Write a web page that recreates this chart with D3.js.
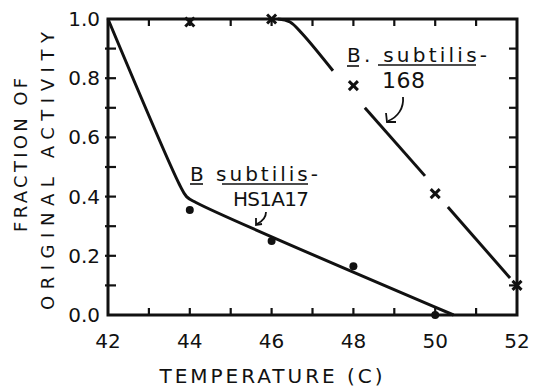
<!DOCTYPE html>
<html><head><meta charset="utf-8">
<script src="https://cdn.jsdelivr.net/npm/d3@7"></script>
<style>
html,body{margin:0;padding:0;background:#fff;}
svg{display:block;font-family:"DejaVu Sans",sans-serif;}
</style></head>
<body><svg id="c" width="533" height="387"></svg>
<script>
// ---- data ----
const temps168 = [44, 46, 48, 50, 52];
const activity168 = [0.99, 1.0, 0.775, 0.41, 0.10];
const tempsHS = [44, 46, 48, 50];
const activityHS = [0.355, 0.25, 0.165, 0.0];
// hand-drawn fitted curves (broken into segments as in the figure)
const fit168Seg1 = [[46.15, 1.0], [46.45, 0.99], [46.75, 0.95], [47.5, 0.825]];
const fit168Seg2 = [[48.28, 0.70], [49.75, 0.47]];
const fit168Seg3 = [[50.31, 0.365], [51.83, 0.125]];
const fitHS = [[42, 1.0], [43.75, 0.44], [43.92, 0.40], [44.15, 0.38], [50.45, 0.0]];
const xTicks = [42, 44, 46, 48, 50, 52];
const xMinor = [43, 44, 45, 46, 47, 48, 49, 50, 51];
const yTicks = [0, 0.2, 0.4, 0.6, 0.8, 1.0];
const yMinor = [0.1, 0.2, 0.3, 0.4, 0.5, 0.6, 0.7, 0.8, 0.9];

const svg = d3.select("#c");
const x = d3.scaleLinear().domain([42, 52]).range([108, 517]);
const y = d3.scaleLinear().domain([0, 1]).range([315, 19]);
const ink = "#111";

// frame
svg.append("rect").attr("x", x(42)).attr("y", y(1)).attr("width", x(52) - x(42)).attr("height", y(0) - y(1))
  .attr("fill", "none").attr("stroke", ink).attr("stroke-width", 3);

// ticks
const tk = svg.append("g").attr("stroke", ink).attr("stroke-width", 2.2);
xMinor.forEach(t => {
  tk.append("line").attr("x1", x(t)).attr("x2", x(t)).attr("y1", y(0)).attr("y2", y(0) - 7);
  tk.append("line").attr("x1", x(t)).attr("x2", x(t)).attr("y1", y(1)).attr("y2", y(1) + 7);
});
yMinor.forEach(t => {
  tk.append("line").attr("x1", x(42) - 3).attr("x2", x(42) + 8).attr("y1", y(t)).attr("y2", y(t));
  tk.append("line").attr("x1", x(52)).attr("x2", x(52) - 8).attr("y1", y(t)).attr("y2", y(t));
});

// tick labels
svg.append("g").selectAll("text").data(xTicks).join("text")
  .attr("x", d => x(d)).attr("y", 348).attr("text-anchor", "middle")
  .attr("font-size", 20).attr("fill", ink).text(d => d);
svg.append("g").selectAll("text").data(yTicks).join("text")
  .attr("x", 100).attr("y", d => y(d) + 7).attr("text-anchor", "end")
  .attr("font-size", 20).attr("fill", ink).text(d => d.toFixed(1));

// axis titles
svg.append("text").attr("x", 271).attr("y", 383).attr("text-anchor", "middle")
  .attr("font-size", 20).attr("fill", ink)
  .attr("textLength", 223).attr("lengthAdjust", "spacing").text("TEMPERATURE (C)");
svg.append("text").attr("transform", "translate(27,155) rotate(-90)").attr("text-anchor", "middle")
  .attr("font-size", 18).attr("fill", ink)
  .attr("textLength", 154).attr("lengthAdjust", "spacing").text("FRACTION OF");
svg.append("text").attr("transform", "translate(54,171) rotate(-90)").attr("text-anchor", "middle")
  .attr("font-size", 18).attr("fill", ink)
  .attr("textLength", 278).attr("lengthAdjust", "spacing").text("ORIGINAL ACTIVITY");

// fitted lines
const line = d3.line().x(d => x(d[0])).y(d => y(d[1])).curve(d3.curveCatmullRom.alpha(0.5));
[fit168Seg1, fit168Seg2, fit168Seg3, fitHS].forEach(seg => {
  svg.append("path").attr("d", line(seg)).attr("fill", "none").attr("stroke", ink)
    .attr("stroke-width", 3).attr("stroke-linecap", "butt");
});

// x markers (168)
const xm = svg.append("g").attr("stroke", ink).attr("stroke-width", 3);
temps168.forEach((t, i) => {
  const cx = x(t), cy = y(activity168[i]), s = 4.5;
  xm.append("line").attr("x1", cx - s).attr("y1", cy - s).attr("x2", cx + s).attr("y2", cy + s);
  xm.append("line").attr("x1", cx - s).attr("y1", cy + s).attr("x2", cx + s).attr("y2", cy - s);
});
// dots (HS1A17)
svg.append("g").selectAll("circle").data(tempsHS).join("circle")
  .attr("cx", d => x(d)).attr("cy", (d, i) => y(activityHS[i])).attr("r", 4).attr("fill", ink);

// annotations
function label(x0, yb, parts, size, total) {
  const t = svg.append("text").attr("x", x0).attr("y", yb).attr("font-size", size).attr("fill", ink)
    .attr("textLength", total).attr("lengthAdjust", "spacing");
  parts.forEach(p => t.append("tspan").attr("text-decoration", p.u ? "underline" : null).text(p.s));
}
svg.append("text").attr("x", 347).attr("y", 62).attr("font-size", 20).attr("fill", ink)
  .attr("textLength", 140).attr("lengthAdjust", "spacing").text("B. subtilis-");
svg.append("text").attr("x", 382).attr("y", 88).attr("font-size", 22).attr("fill", ink)
  .attr("textLength", 43).attr("lengthAdjust", "spacing").text("168");
svg.append("text").attr("x", 190).attr("y", 181).attr("font-size", 20).attr("fill", ink)
  .attr("textLength", 128).attr("lengthAdjust", "spacing").text("B  subtilis-");
svg.append("text").attr("x", 233).attr("y", 206).attr("font-size", 20).attr("fill", ink)
  .attr("textLength", 76).attr("lengthAdjust", "spacing").text("HS1A17");
// underlines
const ul = svg.append("g").attr("stroke", ink).attr("stroke-width", 1.6);
ul.append("line").attr("x1", 347).attr("x2", 359).attr("y1", 66).attr("y2", 66);
ul.append("line").attr("x1", 378).attr("x2", 476).attr("y1", 65).attr("y2", 65);
ul.append("line").attr("x1", 190).attr("x2", 203).attr("y1", 184).attr("y2", 184);
ul.append("line").attr("x1", 222).attr("x2", 308).attr("y1", 184).attr("y2", 184);

// arrows
const ar = svg.append("g").attr("stroke", ink).attr("stroke-width", 1.8).attr("fill", "none");
ar.append("path").attr("d", "M403,97 C404,108 398,117 388,121");
ar.append("path").attr("d", "M386,113 L387,122 L396,122");
ar.append("path").attr("d", "M266,212 C266,217 263,221 257,224");
ar.append("path").attr("d", "M256,218 L256,225 L262,224");
</script></body></html>
